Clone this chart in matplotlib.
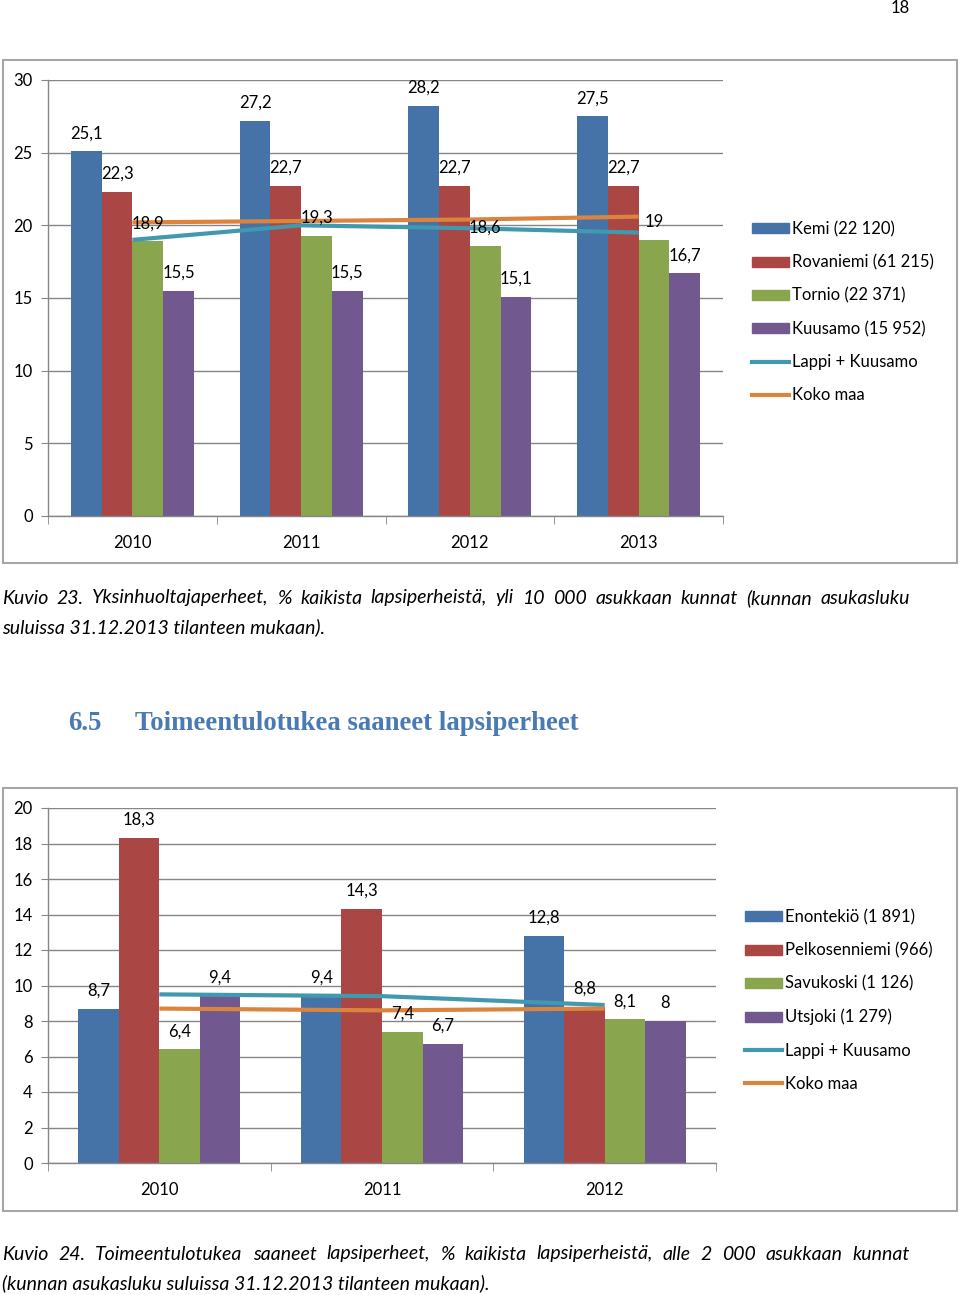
# recreate the two Excel-style bar charts from the report page
import matplotlib
matplotlib.use("Agg")
import matplotlib.pyplot as plt
from matplotlib.patches import Rectangle
from matplotlib.lines import Line2D
import numpy as np

# chart 1 data: yksinhuoltajaperheet
years1 = ['2010', '2011', '2012', '2013']
names1 = ['Kemi (22 120)', 'Rovaniemi (61 215)', 'Tornio (22 371)', 'Kuusamo (15 952)']
kemi = [25.1, 27.2, 28.2, 27.5]
rovaniemi = [22.3, 22.7, 22.7, 22.7]
tornio = [18.9, 19.3, 18.6, 19.0]
kuusamo = [15.5, 15.5, 15.1, 16.7]
lappi1 = [19.0, 20.0, 19.8, 19.5]
koko1 = [20.2, 20.3, 20.4, 20.6]

# chart 2 data: toimeentulotukea saaneet
years2 = ['2010', '2011', '2012']
names2 = ['Enontekiö (1 891)', 'Pelkosenniemi (966)', 'Savukoski (1 126)', 'Utsjoki (1 279)']
enontekio = [8.7, 9.4, 12.8]
pelkosenniemi = [18.3, 14.3, 8.8]
savukoski = [6.4, 7.4, 8.1]
utsjoki = [9.4, 6.7, 8.0]
lappi2 = [9.5, 9.4, 8.9]
koko2 = [8.7, 8.6, 8.7]

line_names = ['Lappi + Kuusamo', 'Koko maa']

bar_colors = ['#4572A7', '#AA4643', '#89A54E', '#71588F']
line_colors = ['#4198AF', '#DB843D']

W, H = 960, 1295
FONT = 'Lato'
plt.rcParams['font.family'] = [FONT, 'DejaVu Sans']

fig = plt.figure(figsize=(W / 100, H / 100), dpi=100)


def box(x0, y0, x1, y1):
    # pixel box -> figure fraction [left, bottom, width, height]
    return [x0 / W, 1 - y1 / H, (x1 - x0) / W, (y1 - y0) / H]


def fmt(v):
    return f"{v:g}".replace('.', ',')


def draw_chart(plot_px, frame_px, legend_xy, years, series, names, lines, ymax, ystep):
    # outer frame
    fx0, fy0, fx1, fy1 = frame_px
    fig.add_artist(Rectangle((fx0 / W, 1 - fy1 / H), (fx1 - fx0) / W, (fy1 - fy0) / H,
                             transform=fig.transFigure, fill=False, edgecolor='#a6a6a6', lw=1.5))
    ax = fig.add_axes(box(*plot_px))
    n = len(years)
    x = np.arange(n)
    bw = 0.182
    offsets = (np.arange(len(series)) - (len(series) - 1) / 2) * bw
    for vals, off, col, name in zip(series, offsets, bar_colors, names):
        ax.bar(x + off, vals, width=bw, color=col, zorder=2, label=name)
        for xi, v in zip(x + off, vals):
            ax.annotate(fmt(v), (xi, v), xytext=(0, 13), textcoords='offset points',
                        ha='center', va='center', fontsize=12, color='black', zorder=5)
    for vals, col, name in zip(lines, line_colors, line_names):
        ax.plot(x, vals, color=col, lw=3, zorder=3, solid_capstyle='butt', label=name)

    ax.set_xlim(-0.5, n - 0.5)
    ax.set_ylim(0, ymax)
    ticks = np.arange(0, ymax + 0.1, ystep)
    ax.set_yticks(ticks)
    ax.set_yticklabels([f"{int(t)}" for t in ticks], fontsize=12)
    ax.yaxis.grid(True, color='#868686', lw=1)
    ax.set_axisbelow(True)
    for s in ['top', 'right']:
        ax.spines[s].set_visible(False)
    for s in ['left', 'bottom']:
        ax.spines[s].set_color('#868686')
        ax.spines[s].set_linewidth(1)
    ax.tick_params(axis='y', length=5, color='#868686', pad=6)
    ax.set_xticks(x)
    ax.set_xticklabels(years, fontsize=12)
    ax.tick_params(axis='x', which='major', length=0, pad=14)
    ax.set_xticks(np.arange(-0.5, n), minor=True)
    ax.tick_params(axis='x', which='minor', length=6, color='#868686')

    leg_handles = [Rectangle((0, 0), 1, 1, color=c) for c in bar_colors] + \
        [Line2D([0], [0], color=c, lw=3) for c in line_colors]
    fig.legend(leg_handles, names + line_names, loc='upper left',
               bbox_to_anchor=(legend_xy[0] / W, 1 - legend_xy[1] / H),
               frameon=False, fontsize=12, handlelength=2.2, handleheight=0.55,
               handletextpad=0.2, labelspacing=1.03, borderpad=0, borderaxespad=0)
    return ax


def justified(line, y, x0, x1, **kw):
    # spread the words of one caption line between x0 and x1 (pixels)
    renderer = fig.canvas.get_renderer()
    words = line.split(' ')
    texts = [fig.text(0, 1 - y / H, w, **kw) for w in words]
    widths = [t.get_window_extent(renderer).width for t in texts]
    gap = (x1 - x0 - sum(widths)) / (len(words) - 1)
    pos = x0
    for t, w in zip(texts, widths):
        t.set_x(pos / W)
        pos += w + gap


draw_chart((48, 80, 723, 516), (3, 60, 957, 563), (752, 221),
           years1, [kemi, rovaniemi, tornio, kuusamo], names1, [lappi1, koko1], 30, 5)
draw_chart((48, 808, 716, 1163), (3, 788, 957, 1211), (745, 909),
           years2, [enontekio, pelkosenniemi, savukoski, utsjoki], names2, [lappi2, koko2], 20, 2)

# page text
fig.text(900 / W, 1 - 8 / H, '18', ha='center', va='center', fontsize=12)
cap = dict(fontsize=14, style='italic', ha='left', va='center')
justified('Kuvio 23. Yksinhuoltajaperheet, % kaikista lapsiperheistä, yli 10 000 asukkaan kunnat (kunnan asukasluku',
          598, 2, 910, **cap)
fig.text(2 / W, 1 - 627 / H, 'suluissa 31.12.2013 tilanteen mukaan).', **cap)
justified('Kuvio 24. Toimeentulotukea saaneet lapsiperheet, % kaikista lapsiperheistä, alle 2 000 asukkaan kunnat',
          1254, 2, 910, **cap)
fig.text(2 / W, 1 - 1283 / H, '(kunnan asukasluku suluissa 31.12.2013 tilanteen mukaan).', **cap)

head = dict(fontsize=19.3, fontweight='bold', color='#4A7AB4', family='Liberation Serif', va='center')
fig.text(68 / W, 1 - 723 / H, '6.5', **head)
fig.text(135 / W, 1 - 723 / H, 'Toimeentulotukea saaneet lapsiperheet', **head)

fig.savefig('out.png', dpi=100)
